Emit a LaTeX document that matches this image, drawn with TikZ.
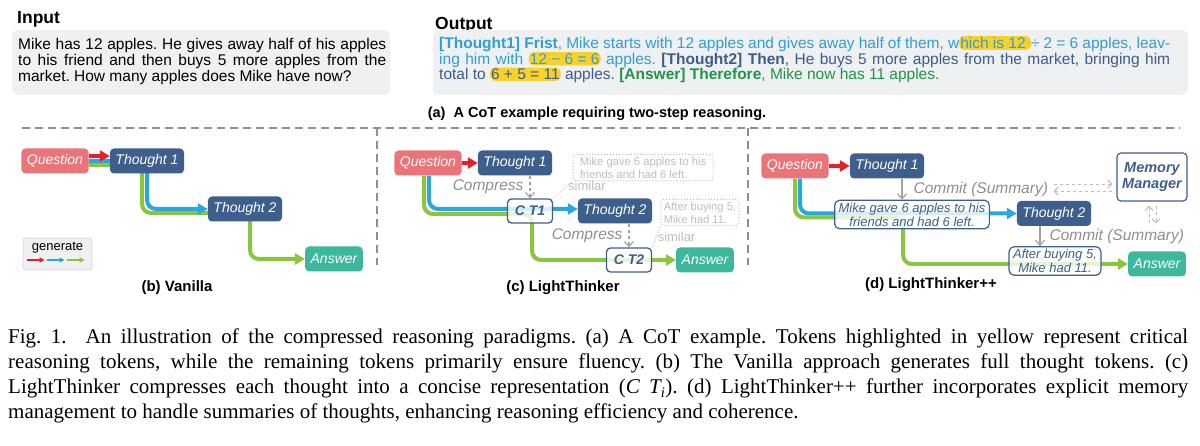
\documentclass[tikz,border=0pt]{standalone}
\usepackage{fontspec}
\setmainfont{Liberation Sans}
\newfontfamily\capfont{Liberation Serif}
\usetikzlibrary{arrows.meta,backgrounds}
\frenchspacing

\definecolor{qred}{HTML}{E9747A}
\definecolor{tblue}{HTML}{3E5F8C}
\definecolor{ateal}{HTML}{3DB89C}
\definecolor{gred}{HTML}{E42129}
\definecolor{gblue}{HTML}{2AA7DF}
\definecolor{ggreen}{HTML}{8BC53F}
\definecolor{boxgray}{HTML}{EEF0F2}
\definecolor{sepgray}{HTML}{8F8F8F}
\definecolor{ghost}{HTML}{BDBDBD}
\definecolor{congray}{HTML}{A3A3A3}
\definecolor{labgray}{HTML}{8E8E8E}
\definecolor{outone}{HTML}{2F9FD7}
\definecolor{outtwo}{HTML}{3C5D8A}
\definecolor{outans}{HTML}{1F9547}
\definecolor{hlyel}{HTML}{F8D12B}

\tikzset{
  head/.style={anchor=base west, inner sep=0pt, font=\bfseries\fontsize{17.5}{17.5}\selectfont},
  title/.style={anchor=base, inner sep=0pt, font=\bfseries\fontsize{15}{15}\selectfont},
  graybox/.style={fill=boxgray, rounded corners=6pt, inner sep=0pt},
  blk/.style={rounded corners=4pt, text=white, font=\itshape\fontsize{14}{14}\selectfont,
    minimum height=25pt, inner xsep=5.5pt},
  ctbox/.style={draw=tblue, line width=1.3pt, rounded corners=4pt, fill=white, fill opacity=0.8,
    text opacity=1, text=tblue, font=\bfseries\itshape\fontsize{14}{14}\selectfont,
    minimum width=45pt, minimum height=24pt},
  sumbox/.style={draw=tblue, line width=1.2pt, rounded corners=5pt, fill=white, fill opacity=0.8,
    text opacity=1, text=tblue, align=center, font=\itshape\fontsize{13}{14}\selectfont,
    inner xsep=4pt, inner ysep=2.5pt},
  mmbox/.style={draw=tblue, line width=1.2pt, rounded corners=4pt, fill=white, text=tblue,
    align=center, font=\bfseries\itshape\fontsize{14.5}{16}\selectfont,
    minimum width=70pt, minimum height=48pt},
  ghostbox/.style={draw=ghost, dotted, line width=1pt, rounded corners=3pt, text=ghost,
    align=left, font=\fontsize{11.2}{13}\selectfont, inner xsep=3pt, inner ysep=2.5pt},
  lab/.style={text=labgray, inner sep=1pt, font=\itshape\fontsize{15.5}{15.5}\selectfont},
  simlab/.style={text=ghost, inner sep=1pt, font=\fontsize{13}{13}\selectfont},
  gen/.style={line width=4pt, rounded corners=9pt, -{Triangle[length=10pt,width=11pt]}},
  genR/.style={gen, line width=3.5pt, gred},
  genB/.style={gen, gblue},
  genG/.style={gen, ggreen},
  sep/.style={sepgray, line width=1.3pt, dash pattern=on 8pt off 5pt},
  cmpr/.style={congray, line width=1.2pt, dashed, -{Straight Barb[length=5pt,width=9pt]}},
  commit/.style={congray, line width=1.2pt, -{Straight Barb[length=5pt,width=9pt]}},
  memarr/.style={ghost, line width=1pt, dashed, shorten <=4pt, shorten >=4pt,
    -{Straight Barb[length=4pt,width=8pt]}},
  simline/.style={ghost, line width=1pt, dotted},
  legarr/.style={line width=1.5pt, -{Triangle[length=5pt,width=5pt]}},
  hlbox/.style={fill=hlyel, rounded corners=5pt, inner xsep=1pt, inner ysep=1.2pt, outer sep=0pt}
}

\newcommand\hl[1]{\tikz[baseline=(hlx.base)]\node[hlbox](hlx){#1};}
\newcommand\tightlines{\lineskiplimit-10pt\relax}

\begin{document}
\begin{tikzpicture}[x=1pt,y=-1pt]
\useasboundingbox (0,0) rectangle (1200,446);

% (a) input and output
\node[head] (inhead) at (17,24) {Input};
\node[graybox, minimum width=378pt, minimum height=65pt] (inbox) at (201,62.5) {};
\node[anchor=north west, inner sep=0pt, text width=368pt, align=justify,
  font=\fontsize{15.5}{16}\selectfont\tightlines] (intext) at (18,38)
  {Mike has 12 apples. He gives away half of his apples\linebreak
   to his friend and then buys 5 more apples from the\linebreak
   market. How many apples does Mike have now?};

\node[head] (outhead) at (435,29.5) {Output};
\node[graybox, minimum width=755pt, minimum height=65pt] (outbox) at (810.5,62.5) {};
\node[anchor=north west, inner sep=0pt, text width=731pt, align=justify,
  font=\fontsize{15.5}{15.5}\selectfont\tightlines] (outtext) at (439,36)
  {{\color{outone}\textbf{[Thought1] Frist}, Mike starts with 12 apples and gives away half of them, w\hl{hich is 12 }÷ 2 = 6 apples, leav-\linebreak
   ing him with \hl{12 − 6 = 6} apples.} {\color{outtwo}\textbf{[Thought2] Then}, He buys 5 more apples from the market, bringing him\linebreak
   total to \hl{6 + 5 = 11} apples.} {\color{outans}\textbf{[Answer] Therefore}, Mike now has 11 apples.}};

\node[title, font=\bfseries\fontsize{14.5}{14.5}\selectfont] (capa) at (597,118)
  {(a)~ A CoT example requiring two-step reasoning.};

% separators
\draw[sep] (22,128) -- (1180,128);
\draw[sep] (377,128) -- (377,265);
\draw[sep] (748,128) -- (748,265);

% (b) Vanilla
\node[blk, fill=qred] (vq) at (55,161) {Question};
\node[blk, fill=tblue] (vt1) at (147,161) {Thought 1};
\node[blk, fill=tblue] (vt2) at (245,209) {Thought 2};
\node[blk, fill=ateal] (va) at (334,259) {Answer};
\begin{scope}[on background layer]
  \draw[genG] ([yshift=-4pt]vq.east) -| ([xshift=-5pt]vt1.south)
    |- ([xshift=5pt,yshift=-4pt]vt2.center) |- (va.west);
  \draw[genB] (vq.east) -| (vt1.south) |- (vt2.west);
  \draw[genR] ([yshift=5pt]vq.east) -- ([yshift=5pt]vt1.west);
\end{scope}

% legend
\node[graybox, draw=black!15, line width=0.8pt, rounded corners=3pt,
  minimum width=69pt, minimum height=32pt] (lg) at (57.5,254) {};
\node[inner sep=0pt, font=\fontsize{13}{13}\selectfont] (lgt) at ([yshift=-10pt]lg.north) {generate};
\foreach \c [count=\i] in {gred,gblue,ggreen}
  \draw[legarr,\c] ([xshift={(\i-1)*20pt+4pt},yshift=-6pt]lg.west) -- ++(18,0);

\node[title] (capb) at (177,292) {(b) Vanilla};

% (c) LightThinker
\node[blk, fill=qred] (cq) at (428,163) {Question};
\node[blk, fill=tblue] (ct1) at (515,163) {Thought 1};
\node[ctbox] (cc1) at (530,211) {C T1};
\node[blk, fill=tblue] (ct2) at (615,211) {Thought 2};
\node[ctbox] (cc2) at (629,260) {C T2};
\node[blk, fill=ateal] (ca) at (705,260) {Answer};
\node[ghostbox, minimum width=140pt] (cg1) at (643,167.5) {Mike gave 6 apples to his\\friends and had 6 left.};
\node[ghostbox, minimum width=76pt] (cg2) at (700,212.5) {After buying 5,\\Mike had 11.};
\begin{scope}[on background layer]
  \draw[genG] ([xshift=-4pt]cq.south) |- ([xshift=2pt,yshift=-3pt]cc1.center) |- (ca.west);
  \draw[genB] ([xshift=1pt]cq.south) |- ([yshift=2pt]ct2.west);
\end{scope}
\draw[genR] (cq.east) -- (ct1.west);
\draw[cmpr] (cc1.north |- ct1.south) -- (cc1.north) node[midway, left=5pt, lab] (lc1) {Compress};
\draw[cmpr] (cc2.north |- ct2.south) -- (cc2.north) node[midway, left=5pt, lab] (lc2) {Compress};
\draw[simline] (cc1.north east) -- (cg1.south west) node[pos=0.7, anchor=west, simlab] (sl1) {similar};
\draw[simline] (cc2.north east) -- (cg2.south west) node[pos=0.5, anchor=west, simlab] (sl2) {similar};

\node[title] (capc) at (563,292) {(c) LightThinker};

% (d) LightThinker++
\node[blk, fill=qred] (dq) at (795,166) {Question};
\node[blk, fill=tblue] (dt1) at (887,166) {Thought 1};
\node[sumbox] (ds1) at (912,214.5) {Mike gave 6 apples to his\\friends and had 6 left.};
\node[blk, fill=tblue] (dt2) at (1054,213.5) {Thought 2};
\node[sumbox] (ds2) at (1055,261) {After buying 5,\\Mike had 11.};
\node[blk, fill=ateal] (da) at (1157,264) {Answer};
\node[mmbox] (mm) at (1152,177) {Memory\\Manager};
\begin{scope}[on background layer]
  \draw[genG] (dq.south) |- ([xshift=-9pt,yshift=-3pt]ds1.center) |- (da.west);
  \draw[genB] ([xshift=5pt]dq.south) |- (dt2.west);
\end{scope}
\draw[genR] (dq.east) -- (dt1.west);
\draw[commit] ([xshift=-10pt]ds1.north |- dt1.south) -- ([xshift=-10pt]ds1.north)
  node[midway, right=10pt, lab] (cm1) {Commit (Summary)};
\draw[commit] ([xshift=-15pt]ds2.north |- dt2.south) -- ([xshift=-15pt]ds2.north)
  node[midway, right=8pt, lab] (cm2) {Commit (Summary)};
\draw[memarr] ([yshift=5pt]cm1.east) -- ([yshift=5pt]cm1.east -| mm.west);
\draw[memarr] ([yshift=-2pt]cm1.east -| mm.west) -- ([yshift=-2pt]cm1.east);
\draw[memarr] ([xshift=-3pt]mm.south |- cm2.north) -- ([xshift=-3pt]mm.south);
\draw[memarr] ([xshift=4pt]mm.south) -- ([xshift=4pt]mm.south |- cm2.north);

\node[title] (capd) at (931,289) {(d) LightThinker++};

% caption
\node[anchor=north west, inner sep=0pt, text width=1180pt, align=justify,
  font=\capfont\fontsize{21}{25}\selectfont] (cap) at (8,329)
  {Fig. 1.\ \ An illustration of the compressed reasoning paradigms. (a) A CoT example. Tokens highlighted in yellow represent critical\linebreak
   reasoning tokens, while the remaining tokens primarily ensure fluency. (b) The Vanilla approach generates full thought tokens. (c)\linebreak
   LightThinker compresses each thought into a concise representation (\textit{C T\textsubscript{i}}). (d) LightThinker++ further incorporates explicit memory\linebreak
   management to handle summaries of thoughts, enhancing reasoning efficiency and coherence.};
\end{tikzpicture}
\end{document}
